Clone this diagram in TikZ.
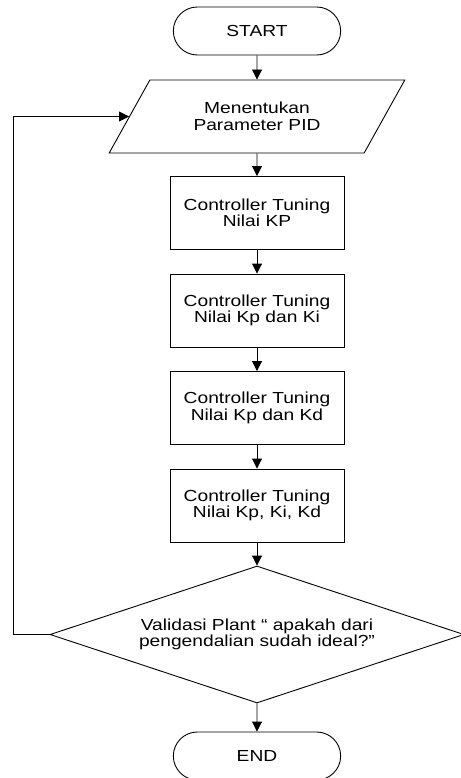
\documentclass[tikz,border=0pt]{standalone}
\usepackage{fontspec}
\setmainfont{Liberation Sans}[FakeStretch=1.2]
\usetikzlibrary{shapes.geometric,shapes.misc,arrows.meta}

\begin{document}
\begin{tikzpicture}[x=1pt,y=1pt,line width=0.9pt]

\useasboundingbox (0,0) rectangle (460,-778);

\tikzstyle{txt} = [font=\fontsize{16}{16.5}\selectfont, align=center]
\tikzstyle{term} = [draw, rounded rectangle, minimum width=174pt, minimum height=48pt, txt]
\tikzstyle{io} = [draw, trapezium, trapezium left angle=54, trapezium right angle=126, trapezium stretches=true, minimum width=296pt, minimum height=73pt, txt]
\tikzstyle{proc} = [draw, rectangle, minimum width=174pt, minimum height=73pt, txt]
\tikzstyle{decide} = [draw, diamond, aspect=3, inner sep=0pt, minimum width=414pt, minimum height=137pt, txt]
\tikzstyle{arr} = [-{Triangle[length=10pt,width=10pt]}]

\node (start) [term] at (257,-31) {START};
\node (param) [io] at (257,-116.5) {Menentukan\\Parameter PID};
\node (kp) [proc] at (257,-213) {Controller Tuning\\Nilai KP};
\node (kpki) [proc] at (257,-310.5) {Controller Tuning\\Nilai Kp dan Ki};
\node (kpkd) [proc] at (257,-408) {Controller Tuning\\Nilai Kp dan Kd};
\node (kpkikd) [proc] at (257,-505.5) {Controller Tuning\\Nilai Kp, Ki, Kd};
\node (valid) [decide] at (257,-634.5) {Validasi Plant “ apakah dari\\pengendalian sudah ideal?”};
\node (end) [term] at (257,-756) {END};

\draw[arr] (start) -- (param);
\draw[arr] (param) -- (kp);
\draw[arr] (kp) -- (kpki);
\draw[arr] (kpki) -- (kpkd);
\draw[arr] (kpkd) -- (kpkikd);
\draw[arr] (kpkikd) -- (valid);
\draw[arr] (valid) -- (end);

% loop back when not ideal
\draw[arr] (valid.west) -- ++(-36,0) |- (param.left side);

\end{tikzpicture}
\end{document}
